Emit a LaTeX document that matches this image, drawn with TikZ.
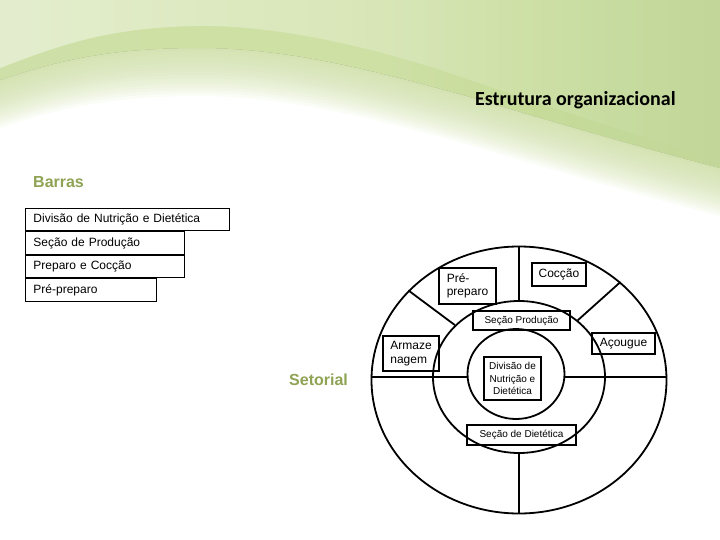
\documentclass[tikz,border=0pt]{standalone}
\usepackage{fontspec}
\setmainfont{Liberation Sans}
\newfontfamily\titlefont{Carlito}
\usetikzlibrary{positioning,shapes.geometric,fadings}

\definecolor{leafgreen}{RGB}{190,214,136}
\definecolor{palegreen}{RGB}{224,235,200}
\definecolor{fadegreen}{RGB}{206,224,164}
\definecolor{labelgreen}{RGB}{143,163,85}

\tikzfading[name=fade right, left color=transparent!55, right color=transparent!100]

\tikzset{
  wavetop/.style={insert path={(0,68) .. controls (60,45) and (110,27) .. (200,26) .. controls (290,25) and (400,55) .. (470,80) .. controls (560,110) and (650,140) .. (720,160)}},
  wavelow/.style={insert path={(0,80) .. controls (60,60) and (110,48) .. (200,48) .. controls (290,48) and (380,72) .. (470,97) .. controls (560,124) and (650,150) .. (720,168)}},
  barbox/.style={draw, line width=0.9pt, anchor=north west, minimum height=22.5pt, inner xsep=8pt, inner ysep=0pt, align=left, font=\fontsize{12}{14}\selectfont},
  ring/.style={draw, ellipse, line width=1.8pt, inner sep=0pt},
  spoke/.style={line width=1.8pt},
  tag/.style={draw, line width=1.4pt, inner sep=0pt, align=left, font=\fontsize{12}{13.5}\selectfont},
  smalltag/.style={tag, align=center, font=\fontsize{10}{12.5}\selectfont},
  sidelabel/.style={anchor=west, inner sep=0pt, text=labelgreen, font=\bfseries\fontsize{16}{19}\selectfont}
}

\begin{document}
\begin{tikzpicture}[x=1pt, y=-1pt]
\useasboundingbox (0,0) rectangle (720,540);
\fill[white] (0,0) rectangle (720,540);

% green wave on top
\begin{scope}
\clip (0,0) rectangle (720,540);
\fill[left color=palegreen, right color=leafgreen, wavelow] -- (720,-5) -- (0,-5) -- cycle;
\foreach \d in {3,6,...,48}
  \fill[fadegreen, fill opacity=0.09, yshift=-\d pt, wavelow] -- (720,-60) -- (0,-60) -- cycle;
\fill[white, path fading=fade right, wavetop] -- (720,-5) -- (0,-5) -- cycle;
\end{scope}

\node[anchor=west, inner sep=0pt, font=\titlefont\bfseries\fontsize{20}{24}\selectfont] (title) at (475,100) {Estrutura organizacional};

% bars
\node[sidelabel] (barras) at (33,182) {Barras};
\node[barbox, text width=188pt] (dnd) at (25,208) {Divisão de Nutrição e Dietética};
\node[barbox, text width=143pt, below=0pt of dnd.south west, anchor=north west] (producao) {Seção de Produção};
\node[barbox, text width=143pt, below=0pt of producao.south west, anchor=north west] (preparo) {Preparo e Cocção};
\node[barbox, text width=115pt, below=0pt of preparo.south west, anchor=north west] (prepreparo) {Pré-preparo};

% sectors
\node[sidelabel] (setorial) at (289,380) {Setorial};
\node[ring, minimum width=295pt, minimum height=267pt] (outer) at (519,380) {};
\node[ring, minimum width=172pt, minimum height=152pt] (middle) at (519,377) {};
\node[ring, minimum width=97pt, minimum height=90pt] (inner) at (516,374) {};

\draw[spoke] (outer.west |- middle.center) -- (inner.west |- middle.center);
\draw[spoke] (inner.east |- middle.center) -- (outer.east |- middle.center);
\draw[spoke] (outer.north) -- (middle.north);
\draw[spoke] (middle.south) -- (outer.south);
\draw[spoke] (middle.141) -- (outer.141);
\draw[spoke] (middle.44) -- (outer.44);

\node[tag, minimum width=57pt, minimum height=36pt] (cprep) at (467.5,286) {Pré-\\preparo};
\node[tag, minimum width=54pt, minimum height=23pt] (ccoc) at (559,274.5) {Cocção};
\node[smalltag, minimum width=97pt, minimum height=19pt] (cprod) at (521.5,320.5) {Seção Produção};
\node[tag, minimum width=63pt, minimum height=21pt] (cacou) at (623.5,343.5) {Açougue};
\node[tag, minimum width=56pt, minimum height=35pt] (carm) at (411,353.5) {Armaze\\nagem};
\node[smalltag, minimum width=57pt, minimum height=43pt] (cdnd) at (512.5,378.5) {Divisão de\\Nutrição e\\Dietética};
\node[smalltag, minimum width=109pt, minimum height=20pt] (cdiet) at (521.5,435) {Seção de Dietética};
\end{tikzpicture}
\end{document}
